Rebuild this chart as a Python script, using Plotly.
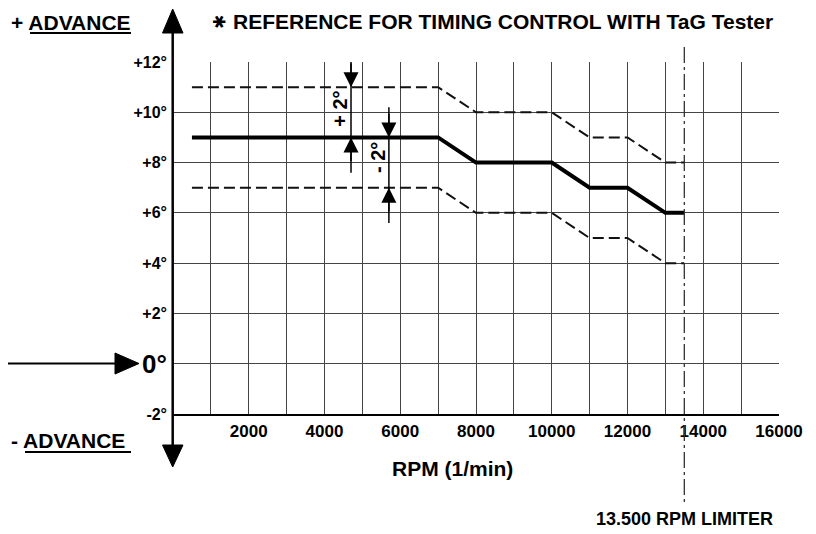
import plotly.graph_objects as go

# ---------------- data ----------------
rpm = [500, 7000, 8000, 10000, 11000, 12000, 13000, 13500]
nominal = [9, 9, 8, 8, 7, 7, 6, 6]
upper = [11, 11, 10, 10, 9, 9, 8, 8]
lower = [7, 7, 6, 6, 5, 5, 4, 4]

x_ticks = list(range(0, 16001, 1000))
x_ticklabels = [str(v) if (v % 2000 == 0 and v > 0) else "" for v in x_ticks]
y_ticks = [12, 10, 8, 6, 4, 2, 0, -2]
y_ticklabels = ["+12°", "+10°", "+8°", "+6°", "+4°", "+2°", "", "-2°"]

limiter_rpm = 13500
tol_plus_x = 4700
tol_minus_x = 5700

# ---------------- layout geometry ----------------
OFF = 8  # page body margin
W_FIG, H_FIG = 816 - OFF, 534 - OFF
PL, PR, PT, PB = 173, 779, 62, 414  # plot area in window pixels
L = PL - OFF
T = PT - OFF
R = W_FIG - (PR - OFF)
B = H_FIG - (PB - OFF)
PW = PR - PL
PH = PB - PT


def px(x):
    return (x - PL) / PW


def py(y):
    return (PB - y) / PH


FONT = "Liberation Sans, Arial, Helvetica, sans-serif"

fig = go.Figure()

fig.add_trace(go.Scatter(x=rpm, y=upper, mode="lines",
                         line=dict(color="#111", width=2, dash="11px,5px"),
                         hoverinfo="skip"))
fig.add_trace(go.Scatter(x=rpm, y=lower, mode="lines",
                         line=dict(color="#111", width=2, dash="11px,5px"),
                         hoverinfo="skip"))
fig.add_trace(go.Scatter(x=rpm, y=nominal, mode="lines",
                         line=dict(color="black", width=4),
                         hoverinfo="skip"))

shapes = []
# left axis extended with arrows
shapes.append(dict(type="line", xref="paper", yref="paper",
                   x0=px(172.7), x1=px(172.7), y0=py(462), y1=py(14),
                   line=dict(color="black", width=2.5)))
shapes.append(dict(type="path", xref="paper", yref="paper",
                   path=f"M {px(162.5)},{py(33)} L {px(183)},{py(33)} L {px(172.7)},{py(9)} Z",
                   fillcolor="black", line=dict(color="black", width=1)))
shapes.append(dict(type="path", xref="paper", yref="paper",
                   path=f"M {px(162.5)},{py(445)} L {px(183)},{py(445)} L {px(172.7)},{py(467)} Z",
                   fillcolor="black", line=dict(color="black", width=1)))
# zero arrow on the left
shapes.append(dict(type="line", xref="paper", yref="paper",
                   x0=px(0), x1=px(120), y0=py(363.5), y1=py(363.5),
                   line=dict(color="black", width=1.8)))
shapes.append(dict(type="path", xref="paper", yref="paper",
                   path=f"M {px(115)},{py(353)} L {px(115)},{py(374)} L {px(139)},{py(363.5)} Z",
                   fillcolor="black", line=dict(color="black", width=1)))
# limiter line
shapes.append(dict(type="line", xref="x", yref="paper",
                   x0=limiter_rpm, x1=limiter_rpm, y0=py(47), y1=py(502),
                   line=dict(color="#333", width=1.3, dash="16px,4px,3px,4px")))
# tolerance arrows shafts
shapes.append(dict(type="line", xref="x", yref="y",
                   x0=tol_plus_x, x1=tol_plus_x, y0=12.3, y1=7.6,
                   line=dict(color="black", width=1.5)))
shapes.append(dict(type="line", xref="x", yref="y",
                   x0=tol_minus_x, x1=tol_minus_x, y0=10.2, y1=5.6,
                   line=dict(color="black", width=1.5)))
# underlines
shapes.append(dict(type="line", xref="paper", yref="paper",
                   x0=px(30), x1=px(131), y0=py(33), y1=py(33),
                   line=dict(color="black", width=1.8)))
shapes.append(dict(type="line", xref="paper", yref="paper",
                   x0=px(25), x1=px(131), y0=py(452), y1=py(452),
                   line=dict(color="black", width=1.8)))

annotations = []
# arrow heads for tolerances
for (xx, tip, tail) in [(tol_plus_x, 11, 12.0), (tol_plus_x, 9, 8.0),
                        (tol_minus_x, 9, 10.0), (tol_minus_x, 7, 6.0)]:
    annotations.append(dict(x=xx, y=tip, ax=xx, ay=tail, xref="x", yref="y",
                            axref="x", ayref="y", text="", showarrow=True,
                            arrowhead=2, arrowsize=2, arrowwidth=1.5,
                            arrowcolor="black"))
annotations.append(dict(x=4390, y=10.15, xref="x", yref="y", text="<b>+ 2°</b>",
                        textangle=-90, showarrow=False,
                        font=dict(family=FONT, size=20, color="black")))
annotations.append(dict(x=5400, y=8.2, xref="x", yref="y", text="<b>- 2°</b>",
                        textangle=-90, showarrow=False,
                        font=dict(family=FONT, size=20, color="black")))
# texts
annotations.append(dict(x=px(9), y=py(22), xref="paper", yref="paper",
                        xanchor="left", yanchor="middle", showarrow=False,
                        text="<b>+ ADVANCE</b>",
                        font=dict(family=FONT, size=21, color="black")))
annotations.append(dict(x=px(9), y=py(440), xref="paper", yref="paper",
                        xanchor="left", yanchor="middle", showarrow=False,
                        text="<b>- ADVANCE</b>",
                        font=dict(family=FONT, size=21, color="black")))
annotations.append(dict(x=px(218.5), y=py(21), xref="paper", yref="paper",
                        xanchor="center", yanchor="middle", showarrow=False,
                        text="✱", textangle=90,
                        font=dict(family="DejaVu Sans", size=17, color="black")))
annotations.append(dict(x=px(231), y=py(21), xref="paper", yref="paper",
                        xanchor="left", yanchor="middle", showarrow=False,
                        text="<b>REFERENCE FOR TIMING CONTROL WITH TaG Tester</b>",
                        font=dict(family=FONT, size=21, color="black")))
annotations.append(dict(x=px(140), y=0, xref="paper", yref="y",
                        xanchor="left", yanchor="middle", showarrow=False,
                        text="<b>0°</b>",
                        font=dict(family=FONT, size=26, color="black")))
annotations.append(dict(x=px(452), y=py(468), xref="paper", yref="paper",
                        xanchor="center", yanchor="middle", showarrow=False,
                        text="<b>RPM (1/min)</b>",
                        font=dict(family=FONT, size=21, color="black")))
annotations.append(dict(x=limiter_rpm, y=py(519), xref="x", yref="paper",
                        xanchor="center", yanchor="middle", showarrow=False,
                        text="<b>13.500 RPM LIMITER</b>",
                        font=dict(family=FONT, size=18, color="black")))

fig.update_layout(
    width=W_FIG, height=H_FIG, autosize=False,
    margin=dict(l=L, r=R, t=T, b=B, pad=0),
    plot_bgcolor="white", paper_bgcolor="white",
    showlegend=False,
    shapes=shapes, annotations=annotations,
    xaxis=dict(range=[0, 16000], tickmode="array", tickvals=x_ticks,
               ticktext=x_ticklabels, showgrid=True, gridcolor="#444",
               gridwidth=1.3, zeroline=False, showline=True,
               linecolor="black", linewidth=2.2, ticks="",
               tickfont=dict(family=FONT, size=17, color="black", weight="bold")),
    yaxis=dict(range=[-2, 12], tickmode="array", tickvals=y_ticks,
               ticktext=y_ticklabels, showgrid=True, gridcolor="#444",
               gridwidth=1.3, zeroline=False, showline=False, ticks="",
               ticklabelstandoff=5,
               tickfont=dict(family=FONT, size=16, color="black", weight="bold")),
)

fig.write_html("out.html")
